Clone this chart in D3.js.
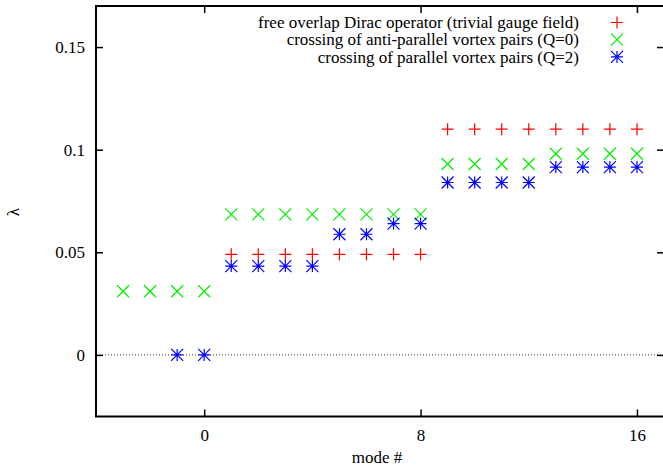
<!DOCTYPE html>
<html><head><meta charset="utf-8">
<script src="https://cdn.jsdelivr.net/npm/d3@7"></script>
<style>body{margin:0;background:#fff}svg{display:block}text{font-family:"Liberation Serif","Times New Roman",serif;fill:#000}</style>
</head><body>
<script>
// data
const freeModes = [1,2,3,4,5,6,7,8,9,10,11,12,13,14,15,16];
const freeValues = [0.049,0.049,0.049,0.049,0.049,0.049,0.049,0.049,0.11,0.11,0.11,0.11,0.11,0.11,0.11,0.11];
const antiModes = [-3,-2,-1,0,1,2,3,4,5,6,7,8,9,10,11,12,13,14,15,16];
const antiValues = [0.031,0.031,0.031,0.031,0.0685,0.0685,0.0685,0.0685,0.0685,0.0685,0.0685,0.0685,0.093,0.093,0.093,0.093,0.098,0.098,0.098,0.098];
const paraModes = [-1,0,1,2,3,4,5,6,7,8,9,10,11,12,13,14,15,16];
const paraValues = [0,0,0.0433,0.0433,0.0433,0.0433,0.0588,0.0588,0.064,0.064,0.084,0.084,0.084,0.084,0.0915,0.0915,0.0915,0.0915];
const xTicks = [0,8,16];
const yTicks = [0,0.05,0.1,0.15];
const yTickLabels = ["0","0.05","0.1","0.15"];
const legendLabels = ["free overlap Dirac operator (trivial gauge field)","crossing of anti-parallel vortex pairs (Q=0)","crossing of parallel vortex pairs (Q=2)"];
const colors = ["#ff0000","#00ee00","#0000ff"];

const W=663,H=468;
const L=96,R=664,T=6,B=416.5;
const svg=d3.select("body").append("svg").attr("width",W).attr("height",H);
const x=d3.scaleLinear().domain([-4,17]).range([L,R]);
const y=d3.scaleLinear().domain([-0.03,0.17]).range([B,T]);

// zero axis
svg.append("line").attr("x1",L).attr("x2",R).attr("y1",y(0)).attr("y2",y(0))
  .attr("stroke","#333").attr("stroke-width",1).attr("stroke-dasharray","1,2");

// axes
const fs=17;
const ax=svg.append("g").attr("transform",`translate(0,${B})`)
  .call(d3.axisBottom(x).tickValues(xTicks).tickSize(-7).tickPadding(12).tickFormat(d3.format("d")));
const axTop=svg.append("g").attr("transform",`translate(0,${T})`)
  .call(d3.axisTop(x).tickValues(xTicks).tickSize(-7).tickFormat(""));
const ay=svg.append("g").attr("transform",`translate(${L},0)`)
  .call(d3.axisLeft(y).tickValues(yTicks).tickSize(-7).tickPadding(11).tickFormat((d,i)=>yTickLabels[i]));
const ayR=svg.append("g").attr("transform",`translate(${R},0)`)
  .call(d3.axisRight(y).tickValues(yTicks).tickSize(-7).tickFormat(""));
[ax,axTop,ay,ayR].forEach(g=>{
  g.select(".domain").remove();
  g.selectAll(".tick line").attr("stroke","#000").attr("stroke-width",1.5);
  g.selectAll("text").attr("font-size",fs).attr("font-family",'"Liberation Serif",serif').attr("fill","#000");
});
ax.selectAll("text").attr("dy","0.71em");
// frame
svg.append("rect").attr("x",L).attr("y",T).attr("width",R-L).attr("height",B-T)
  .attr("fill","none").attr("stroke","#000").attr("stroke-width",2);

// labels
svg.append("text").attr("x",(L+R)/2-3).attr("y",463).attr("text-anchor","middle").attr("font-size",fs).text("mode #");
svg.append("text").attr("transform","translate(19,212) rotate(-90)").attr("text-anchor","middle").attr("font-size",fs).text("λ");

// markers
const s=6;
function marker(g,type,color){
  const p=d3.path();
  if(type===0||type===2){p.moveTo(-s,0);p.lineTo(s,0);p.moveTo(0,-s);p.lineTo(0,s);}
  if(type===1||type===2){p.moveTo(-s,-s);p.lineTo(s,s);p.moveTo(-s,s);p.lineTo(s,-s);}
  g.append("path").attr("d",p.toString()).attr("stroke",color).attr("stroke-width",1.2).attr("fill","none");
}
const series=[[freeModes,freeValues],[antiModes,antiValues],[paraModes,paraValues]];
series.forEach(([ms,vs],k)=>{
  ms.forEach((m,i)=>{
    const g=svg.append("g").attr("transform",`translate(${x(m)},${y(vs[i])})`);
    marker(g,k,colors[k]);
  });
});

// legend
legendLabels.forEach((t,i)=>{
  const yy=22.5+i*17.2;
  svg.append("text").attr("x",579).attr("y",yy).attr("dy","0.33em").attr("text-anchor","end").attr("font-size",fs).text(t);
  const g=svg.append("g").attr("transform",`translate(617,${yy})`);
  marker(g,i,colors[i]);
});
</script>
</body></html>
